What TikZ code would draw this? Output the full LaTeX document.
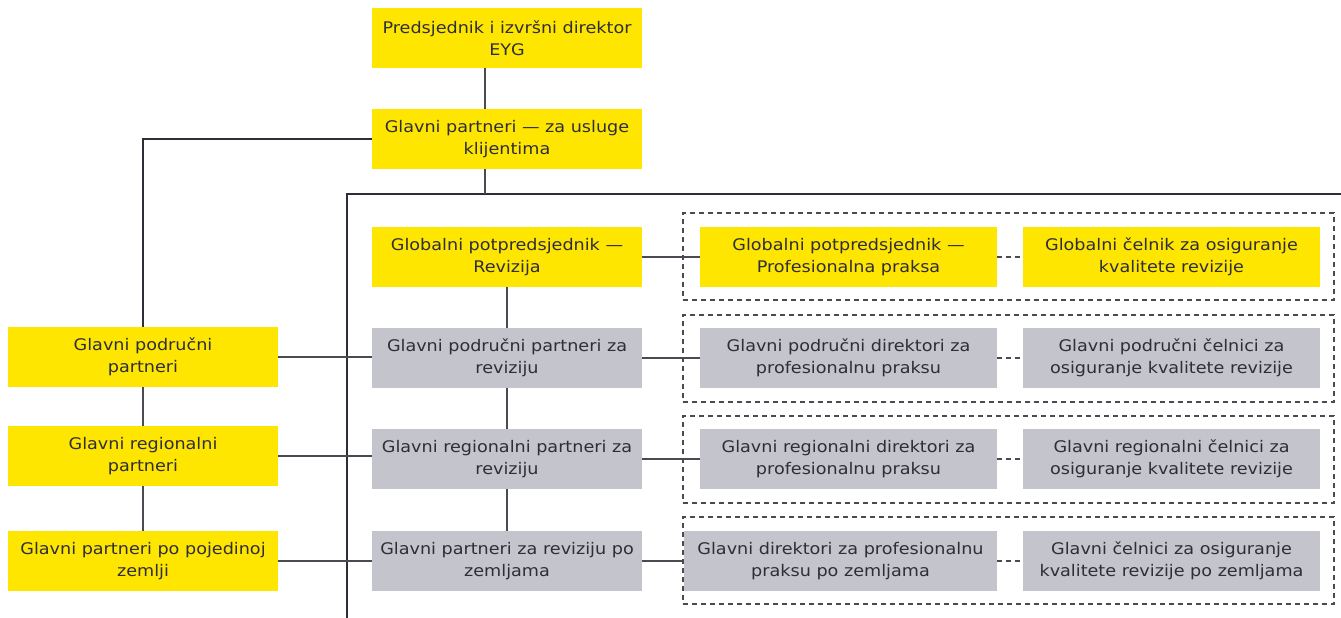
\documentclass[tikz,border=0pt]{standalone}
\usepackage{fontspec}
\setmainfont{DejaVu Sans}[FakeStretch=1.1]
\definecolor{eyyellow}{HTML}{FFE600}
\definecolor{eygray}{HTML}{C4C4CD}
\definecolor{eytext}{HTML}{2E2E38}
\definecolor{eyline}{HTML}{4A4A52}
\definecolor{eythick}{HTML}{2E2E38}
\begin{document}
\begin{tikzpicture}[x=1pt,y=-1pt,
  box/.style={rectangle, draw=none, inner sep=0pt, align=center, text=eytext,
    font=\fontsize{16}{22}\selectfont, minimum height=60pt, minimum width=270pt},
  ybox/.style={box, fill=eyyellow},
  gbox/.style={box, fill=eygray},
  wide/.style={minimum width=297pt},
  thin/.style={draw=eyline, line width=1.4pt},
  thick/.style={draw=eythick, line width=2.6pt},
  dashline/.style={draw=eyline, line width=1.3pt, dash pattern=on 5pt off 4pt},
  dashbox/.style={draw=eyline, line width=1.2pt, dash pattern=on 5pt off 4pt, fill=none}]
\useasboundingbox (0,0) rectangle (1341,618);

% top
\node[ybox] (top) at (507,38) {Predsjednik i izvršni direktor\\EYG};
\node[ybox] (gp) at (507,139) {Glavni partneri — za usluge\\klijentima};

% left column
\node[ybox] (lp) at (143,357) {Glavni područni\\partneri};
\node[ybox] (lr) at (143,456) {Glavni regionalni\\partneri};
\node[ybox] (lz) at (143,561) {Glavni partneri po pojedinoj\\zemlji};

% dashed groups (drawn first)
\node[dashbox, minimum width=651pt, minimum height=87pt] (d1) at (1008.5,256.5) {};
\node[dashbox, minimum width=651pt, minimum height=87pt] (d2) at (1008.5,358.5) {};
\node[dashbox, minimum width=651pt, minimum height=87pt] (d3) at (1008.5,459.5) {};
\node[dashbox, minimum width=651pt, minimum height=87pt] (d4) at (1008.5,560.5) {};

% middle column
\node[ybox] (m1) at (507,257) {Globalni potpredsjednik —\\Revizija};
\node[gbox] (m2) at (507,358) {Glavni područni partneri za\\reviziju};
\node[gbox] (m3) at (507,459) {Glavni regionalni partneri za\\reviziju};
\node[gbox] (m4) at (507,561) {Glavni partneri za reviziju po\\zemljama};

% inner boxes
\node[ybox, wide] (a1) at (848.5,257) {Globalni potpredsjednik —\\Profesionalna praksa};
\node[gbox, wide] (a2) at (848.5,358) {Glavni područni direktori za\\profesionalnu praksu};
\node[gbox, wide] (a3) at (848.5,459) {Glavni regionalni direktori za\\profesionalnu praksu};
\node[gbox, minimum width=313pt] (a4) at (840.5,561) {Glavni direktori za profesionalnu\\praksu po zemljama};

\node[ybox, wide] (b1) at (1171.5,257) {Globalni čelnik za osiguranje\\kvalitete revizije};
\node[gbox, wide] (b2) at (1171.5,358) {Glavni područni čelnici za\\osiguranje kvalitete revizije};
\node[gbox, wide] (b3) at (1171.5,459) {Glavni regionalni čelnici za\\osiguranje kvalitete revizije};
\node[gbox, wide] (b4) at (1171.5,561) {Glavni čelnici za osiguranje\\kvalitete revizije po zemljama};

% coordinates
\coordinate (tx) at (485,0);
\coordinate (hy) at (347,194);
\coordinate (hr) at (1341,194);
\coordinate (hb) at (347,618);

% thick lines
\draw[thick] (hr) -- (hy) -- (hb);
\draw[thin] (gp.south -| tx) -- (hy -| tx);
\draw[thick] (gp.west) -- (gp.west -| lp.north) -- (lp.north);
\draw[thin] (top.south -| tx) -- (gp.north -| tx);

% left column verticals
\draw[thin] (lp.south) -- (lr.north);
\draw[thin] (lr.south) -- (lz.north);

% left to middle
\draw[thin] (lp.east) -- (lp.east -| m2.west);
\draw[thin] (lr.east) -- (lr.east -| m3.west);
\draw[thin] (lz.east) -- (lz.east -| m4.west);

% middle verticals
\draw[thin] (m1.south) -- (m2.north);
\draw[thin] (m2.south) -- (m3.north);
\draw[thin] (m3.south) -- (m4.north);

% middle to inner
\draw[thin] (m1.east) -- (a1.west);
\draw[thin] (m2.east) -- (a2.west);
\draw[thin] (m3.east) -- (a3.west);
\draw[thin] (m4.east) -- (a4.west);

% dashed between inner
\draw[dashline] (a1.east) -- (b1.west);
\draw[dashline] (a2.east) -- (b2.west);
\draw[dashline] (a3.east) -- (b3.west);
\draw[dashline] (a4.east) -- (b4.west);
\end{tikzpicture}
\end{document}
